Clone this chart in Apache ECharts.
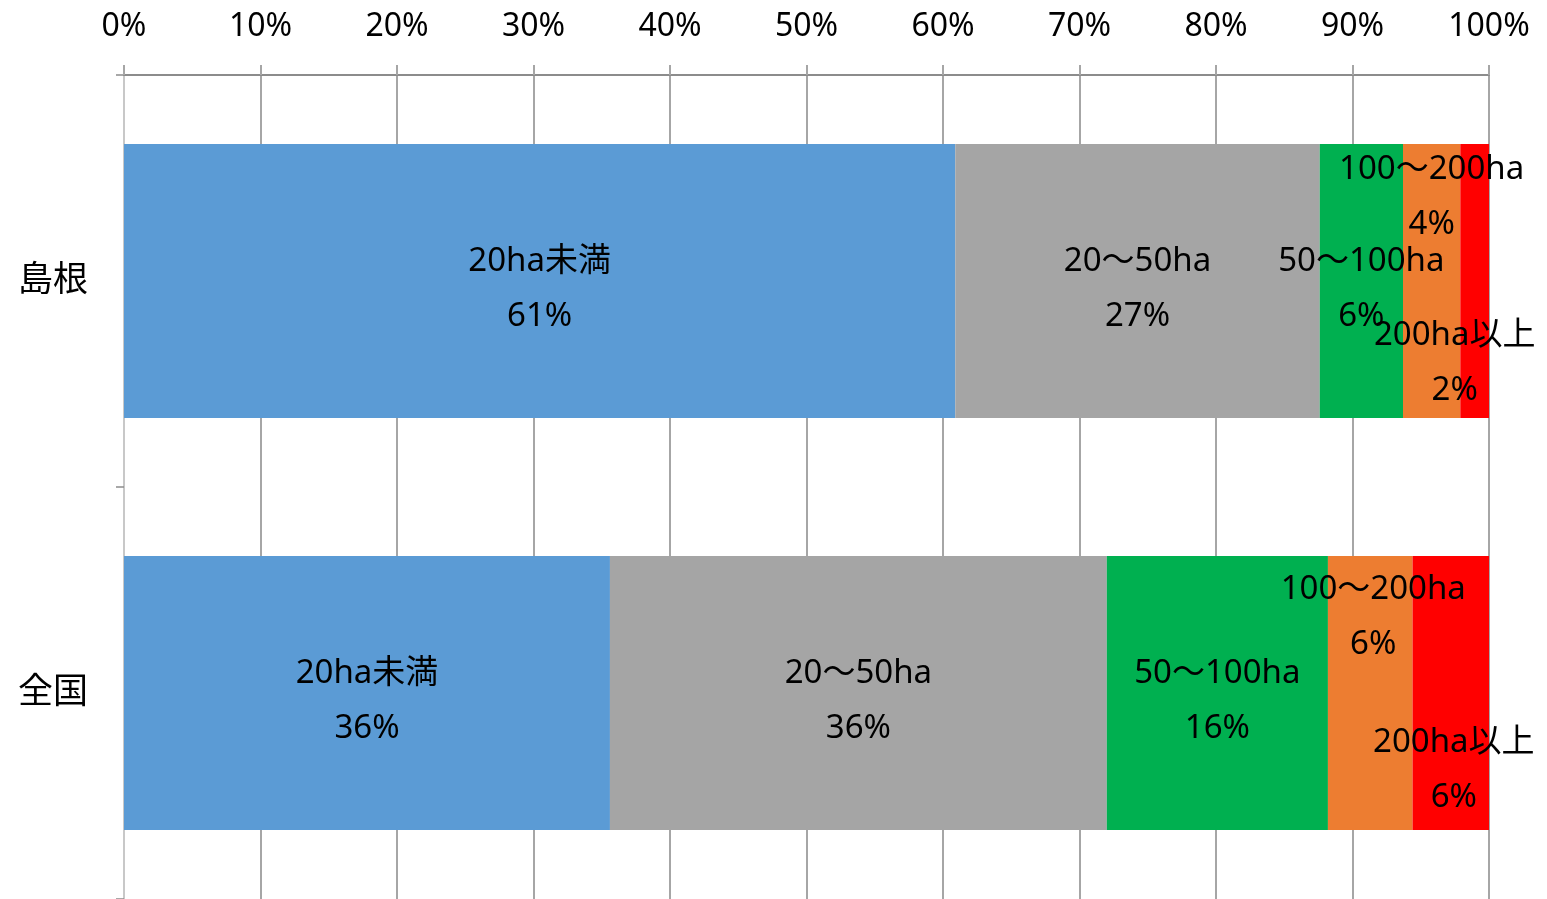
<!DOCTYPE html>
<html>
<head>
<meta charset="utf-8">
<script src="https://cdn.jsdelivr.net/npm/echarts@6/dist/echarts.min.js"></script>
<style>
html,body{margin:0;padding:0;background:#fff;}
#chart{width:1547px;height:899px;}
</style>
</head>
<body>
<div id="chart"></div>
<script>
// ---- data ----
const categories = ['島根', '全国'];
const seriesNames = ['20ha未満', '20〜50ha', '50〜100ha', '100〜200ha', '200ha以上'];
const shimane = [60.9, 26.7, 6.1, 4.2, 2.1];
const zenkoku = [35.6, 36.4, 16.2, 6.2, 5.6];
const xTickLabels = ['0%','10%','20%','30%','40%','50%','60%','70%','80%','90%','100%'];

// ---- styles ----
const colors = ['#5B9BD5', '#A5A5A5', '#00B050', '#ED7D31', '#FF0000'];
const FONT = "'Noto Sans', 'Noto Sans CJK JP', sans-serif";
// manual label offsets [series][category] -> [dx, dy]
const labelOffsets = [
  [[0, 8], [0, 8]],
  [[0, 8], [0, 8]],
  [[0, 8], [0, 8]],
  [[0, -84], [3, -76]],
  [[-20, 82], [3, 77]]
];

const valuesByCat = [shimane, zenkoku];

const chart = echarts.init(document.getElementById('chart'), null, {renderer: 'canvas'});

const series = seriesNames.map((name, si) => ({
  name: name,
  type: 'bar',
  stack: 'total',
  barWidth: '66.5%',
  itemStyle: { color: colors[si] },
  label: {
    show: true,
    position: 'inside',
    color: '#000',
    fontFamily: FONT,
    fontSize: 33,
    lineHeight: 55,
    formatter: p => name + '\n' + Math.round(p.value) + '%'
  },
  data: categories.map((c, ci) => ({
    value: valuesByCat[ci][si],
    label: { offset: labelOffsets[si][ci] }
  }))
}));

chart.setOption({
  animation: false,
  backgroundColor: '#fff',
  grid: { left: 124, right: 58, top: 75, height: 824 },
  xAxis: {
    type: 'value',
    position: 'top',
    min: 0, max: 100, interval: 10,
    axisLine: { show: true, lineStyle: { color: '#8C8C8C', width: 2 } },
    axisTick: { show: true, length: 10, lineStyle: { color: '#A6A6A6', width: 2 } },
    splitLine: { show: true, lineStyle: { color: '#A6A6A6', width: 2 } },
    axisLabel: {
      margin: 32,
      color: '#000',
      fontFamily: FONT,
      fontSize: 32,
      formatter: (v) => xTickLabels[Math.round(v / 10)]
    }
  },
  yAxis: {
    type: 'category',
    inverse: true,
    data: categories,
    axisLine: { show: true, lineStyle: { color: '#C8C8C8', width: 2 } },
    axisTick: { show: true, length: 8, lineStyle: { color: '#8C8C8C', width: 1.5 } },
    axisLabel: {
      margin: 36,
      color: '#000',
      fontFamily: FONT,
      fontSize: 35
    }
  },
  series: series
});
</script>
</body>
</html>
